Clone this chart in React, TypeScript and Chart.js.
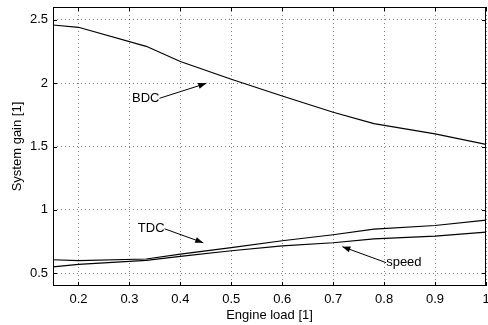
import React, { useEffect, useRef } from "react";
import { Chart, registerables } from "chart.js";

Chart.register(...registerables);

const loads = [0.15, 0.2, 0.333, 0.4, 0.5, 0.6, 0.7, 0.78, 0.9, 1.0];
const bdc = [2.458, 2.44, 2.29, 2.17, 2.03, 1.898, 1.77, 1.68, 1.6, 1.516];
const tdc = [0.607, 0.6, 0.613, 0.652, 0.703, 0.757, 0.804, 0.848, 0.877, 0.919];
const speed = [0.55, 0.571, 0.602, 0.633, 0.678, 0.717, 0.741, 0.772, 0.793, 0.825];

const xTicks = [0.2, 0.3, 0.4, 0.5, 0.6, 0.7, 0.8, 0.9, 1.0];
const yTicks = [0.5, 1, 1.5, 2, 2.5];

// annotations: label, text anchor (data), arrow tip (data), text anchor side
const annLabels = ["BDC", "TDC", "speed"];
const annTextPos = [
  [0.359, 1.88],
  [0.369, 0.851],
  [0.804, 0.584],
];
const annTips = [
  [0.451, 1.998],
  [0.445, 0.741],
  [0.718, 0.71],
];
const annAlign: ("left" | "right")[] = ["right", "right", "left"];

const FONT = "'Liberation Sans', Arial, Helvetica, sans-serif";
const FS = 13;

export default function App() {
  const ref = useRef<HTMLCanvasElement | null>(null);
  useEffect(() => {
    document.body.style.margin = "0";
    const canvas = ref.current!;
    const mk = (ys: number[]) => loads.map((x, i) => ({ x, y: ys[i] }));

    const framePlugin = {
      id: "frame",
      afterDraw(chart: any) {
        const { ctx, chartArea: a, scales } = chart;
        const xs = scales.x, ys = scales.y;
        ctx.save();
        ctx.strokeStyle = "#000";
        ctx.lineWidth = 1;
        ctx.setLineDash([]);
        ctx.strokeRect(Math.round(a.left) + 0.5, Math.round(a.top) + 0.5, Math.round(a.right - a.left) - 1, Math.round(a.bottom - a.top) - 1);
        const L = 4;
        ctx.beginPath();
        xTicks.forEach((v) => {
          const px = Math.round(xs.getPixelForValue(v)) + 0.5;
          ctx.moveTo(px, a.bottom);
          ctx.lineTo(px, a.bottom - L);
          ctx.moveTo(px, a.top);
          ctx.lineTo(px, a.top + L);
        });
        yTicks.forEach((v) => {
          const py = Math.round(ys.getPixelForValue(v)) + 0.5;
          ctx.moveTo(a.left, py);
          ctx.lineTo(a.left + L, py);
          ctx.moveTo(a.right, py);
          ctx.lineTo(a.right - L, py);
        });
        ctx.stroke();

        // annotations
        ctx.font = `${FS}px ${FONT}`;
        ctx.fillStyle = "#000";
        ctx.textBaseline = "middle";
        annLabels.forEach((lab, i) => {
          const tx = xs.getPixelForValue(annTextPos[i][0]);
          const ty = ys.getPixelForValue(annTextPos[i][1]);
          const w = ctx.measureText(lab).width;
          const al = annAlign[i];
          const textLeft = al === "right" ? tx - w : tx;
          ctx.textAlign = "left";
          ctx.fillText(lab, textLeft, ty);
          const sx = al === "right" ? textLeft + w : textLeft;
          const sy = ty;
          const ex = xs.getPixelForValue(annTips[i][0]);
          const ey = ys.getPixelForValue(annTips[i][1]);
          ctx.beginPath();
          ctx.lineWidth = 1;
          ctx.moveTo(sx, sy);
          ctx.lineTo(ex, ey);
          ctx.stroke();
          const ang = Math.atan2(ey - sy, ex - sx);
          const hl = 8, hw = 3;
          const bx = ex - hl * Math.cos(ang), by = ey - hl * Math.sin(ang);
          ctx.beginPath();
          ctx.moveTo(ex, ey);
          ctx.lineTo(bx + hw * Math.sin(ang), by - hw * Math.cos(ang));
          ctx.lineTo(bx - hw * Math.sin(ang), by + hw * Math.cos(ang));
          ctx.closePath();
          ctx.fill();
        });
        ctx.restore();
      },
    };

    const ds = (data: number[]) => ({
      data: mk(data),
      borderColor: "#000",
      borderWidth: 1.2,
      pointRadius: 0,
      tension: 0,
      fill: false,
    });

    const gridCfg = {
      color: "rgba(0,0,0,0.5)",
      lineWidth: 1,
      drawTicks: false,
    };
    const borderCfg = { display: false, dash: [1, 3] };

    const chart = new Chart(canvas, {
      type: "line",
      data: { datasets: [ds(bdc), ds(tdc), ds(speed)] },
      options: {
        animation: false,
        responsive: false,
        devicePixelRatio: 1,
        layout: { padding: { top: 7, right: 2, left: 0, bottom: 0 } },
        plugins: { legend: { display: false }, tooltip: { enabled: false } },
        scales: {
          x: {
            type: "linear",
            min: 0.15,
            max: 1,
            afterBuildTicks: (s: any) => {
              s.ticks = xTicks.map((v) => ({ value: v }));
            },
            afterFit: (s: any) => {
              s.height = 39;
              s.paddingLeft = 0;
              s.paddingRight = 0;
              s.paddingTop = 0;
              s.paddingBottom = 0;
            },
            grid: gridCfg as any,
            border: borderCfg as any,
            ticks: {
              color: "#000",
              font: { family: FONT, size: FS },
              padding: 6,
              maxRotation: 0,
              callback: (v: any) => String(Math.round(v * 10) / 10),
            },
            title: {
              display: true,
              text: "Engine load [1]",
              color: "#000",
              font: { family: FONT, size: FS },
              padding: { top: 0, bottom: 2 },
            },
          },
          y: {
            type: "linear",
            min: 0.4,
            max: 2.6,
            afterBuildTicks: (s: any) => {
              s.ticks = yTicks.map((v) => ({ value: v }));
            },
            afterFit: (s: any) => {
              s.width = 53;
              s.paddingLeft = 0;
              s.paddingRight = 0;
              s.paddingTop = 0;
              s.paddingBottom = 0;
            },
            grid: gridCfg as any,
            border: borderCfg as any,
            ticks: {
              color: "#000",
              font: { family: FONT, size: FS },
              padding: 5,
              callback: (v: any) => String(Math.round(v * 10) / 10),
            },
            title: {
              display: true,
              text: "System gain [1]",
              color: "#000",
              font: { family: FONT, size: FS },
              padding: { top: 10, bottom: 0 },
            },
          },
        },
      },
      plugins: [framePlugin],
    });
    return () => chart.destroy();
  }, []);

  return (
    <div style={{ position: "absolute", left: 0, top: 0, width: 488, height: 325 }}>
      <canvas ref={ref} width={488} height={325} style={{ width: 488, height: 325 }} />
    </div>
  );
}
